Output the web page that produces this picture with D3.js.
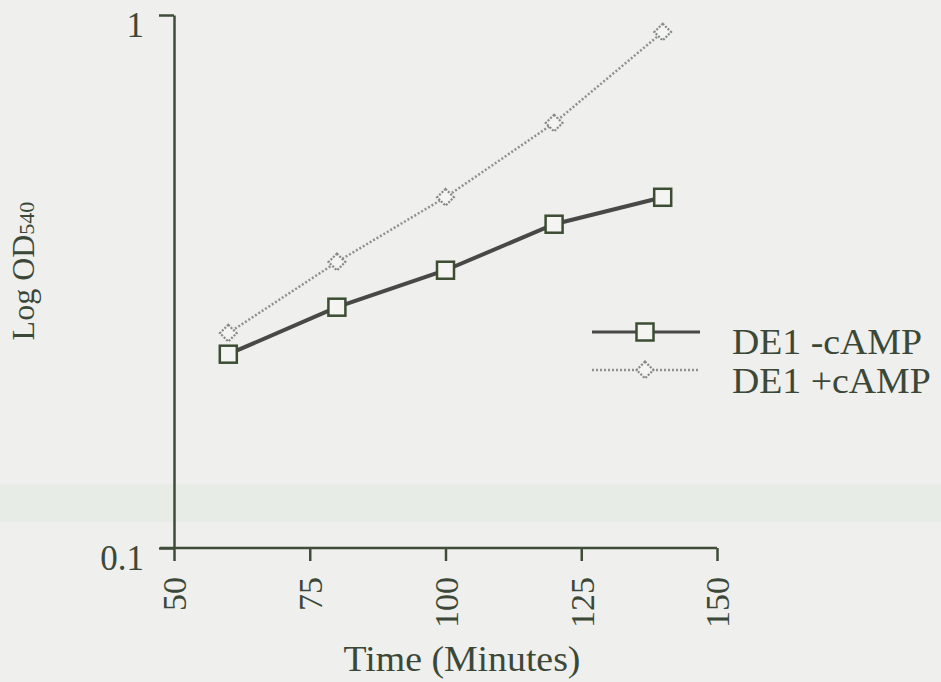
<!DOCTYPE html>
<html>
<head>
<meta charset="utf-8">
<script src="https://cdn.jsdelivr.net/npm/d3@7"></script>
<style>
  body { margin: 0; background: #efefed; }
  svg { display: block; }
  text { font-family: "Liberation Serif", "DejaVu Serif", serif; fill: #3b4838; }
</style>
</head>
<body>
<svg id="chart" width="941" height="682"></svg>
<script>
// data
const times = [60, 80, 100, 120, 140];
const minusCamp = [0.231, 0.283, 0.332, 0.405, 0.455];
const plusCamp = [0.253, 0.344, 0.455, 0.627, 0.929];
const xTicks = [50, 75, 100, 125, 150];
const yTicks = [0.1, 1];
const seriesNames = ['DE1 -cAMP', 'DE1 +cAMP'];

const margin = {top: 15, left: 174, right: 224, bottom: 134};
const width = 941, height = 682;
const stretch = 1.08; // the scan is a bit wider than tall

const svg = d3.select('#chart');

// faint scan band
svg.append('rect')
    .attr('x', 0).attr('y', 484).attr('width', width).attr('height', 38)
    .attr('fill', '#e8ece7');

const x = d3.scaleLinear()
    .domain([50, 150])
    .range([margin.left, width - margin.right]);

const y = d3.scaleLog()
    .domain([0.1, 1])
    .range([height - margin.bottom, margin.top]);

const axisColor = '#3f4c3a';

// x axis
const xAxis = svg.append('g')
    .attr('transform', `translate(0,${y(0.1)})`)
    .call(d3.axisBottom(x).tickValues(xTicks).tickSize(13).tickSizeOuter(0).tickFormat(d3.format('d')));
xAxis.select('.domain').attr('stroke', axisColor).attr('stroke-width', 2.5)
    .attr('d', `M${x(50) - 14},0H${x(150)}`);
xAxis.selectAll('.tick line').attr('stroke', axisColor).attr('stroke-width', 2.5);
xAxis.selectAll('.tick text')
    .attr('font-size', 34)
    .attr('text-anchor', 'end')
    .attr('transform', 'rotate(-90)')
    .attr('x', -29)
    .attr('y', 0)
    .attr('dy', '0.35em')
    .style('fill', '#3b4838');

// y axis
const yAxis = svg.append('g')
    .attr('transform', `translate(${x(50)},0)`)
    .call(d3.axisLeft(y).tickValues(yTicks).tickSize(15).tickSizeOuter(0).tickFormat(d => d === 1 ? '1' : '0.1'));
yAxis.select('.domain').attr('stroke', axisColor).attr('stroke-width', 2.5);
yAxis.selectAll('.tick line').attr('stroke', axisColor).attr('stroke-width', 2.5);
yAxis.selectAll('.tick text')
    .attr('font-size', 35)
    .attr('x', -30)
    .attr('dy', '0.62em')
    .style('fill', '#3b4838');

// axis titles
svg.append('text')
    .attr('transform', `translate(462,671) scale(${stretch},1)`)
    .attr('text-anchor', 'middle')
    .attr('font-size', 35)
    .text('Time (Minutes)');

const yTitle = svg.append('text')
    .attr('transform', 'translate(34,271) rotate(-90)')
    .attr('text-anchor', 'middle')
    .attr('font-size', 32);
yTitle.append('tspan').text('Log OD');
yTitle.append('tspan').attr('font-size', 22).text('540');

// series
const line = d3.line().x(d => x(d[0])).y(d => y(d[1]));
const minusData = times.map((t, i) => [t, minusCamp[i]]);
const plusData = times.map((t, i) => [t, plusCamp[i]]);

const plotG = svg.append('g');

plotG.append('path')
    .datum(plusData)
    .attr('d', line)
    .attr('fill', 'none')
    .attr('stroke', '#8e918c')
    .attr('stroke-width', 2.5)
    .attr('stroke-dasharray', '2,2');

plotG.append('path')
    .datum(minusData)
    .attr('d', line)
    .attr('fill', 'none')
    .attr('stroke', '#484947')
    .attr('stroke-width', 4);

const sq = 17;
const diamond = d3.symbol().type(d3.symbolSquare).size(140);

plotG.selectAll('.diamond')
    .data(plusData)
    .join('path')
    .attr('class', 'diamond')
    .attr('d', diamond)
    .attr('transform', d => `translate(${x(d[0])},${y(d[1])}) rotate(45)`)
    .attr('fill', '#f4f4f2')
    .attr('stroke', '#858a82')
    .attr('stroke-width', 2.2)
    .attr('stroke-dasharray', '2,1.5');

plotG.selectAll('.square')
    .data(minusData)
    .join('rect')
    .attr('class', 'square')
    .attr('x', d => x(d[0]) - sq / 2)
    .attr('y', d => y(d[1]) - sq / 2)
    .attr('width', sq).attr('height', sq)
    .attr('fill', '#f4f4f2')
    .attr('stroke', '#3c4d33')
    .attr('stroke-width', 2.5);

// legend
const legend = svg.append('g');
const legendRows = [
  {name: seriesNames[0], y: 332, text: 354},
  {name: seriesNames[1], y: 370, text: 393}
];
legendRows.forEach((r, i) => {
  legend.append('line')
      .attr('x1', 592).attr('x2', 700).attr('y1', r.y).attr('y2', r.y)
      .attr('stroke', i === 0 ? '#484947' : '#8e918c')
      .attr('stroke-width', i === 0 ? 3 : 2.5)
      .attr('stroke-dasharray', i === 0 ? null : '2,2');
  if (i === 0) {
    legend.append('rect')
        .attr('x', 645 - sq / 2).attr('y', r.y - sq / 2)
        .attr('width', sq).attr('height', sq)
        .attr('fill', '#f4f4f2').attr('stroke', '#3c4d33').attr('stroke-width', 2.5);
  } else {
    legend.append('path')
        .attr('d', diamond)
        .attr('transform', `translate(645,${r.y}) rotate(45)`)
        .attr('fill', '#f4f4f2').attr('stroke', '#858a82')
        .attr('stroke-width', 2.2).attr('stroke-dasharray', '2,1.5');
  }
  legend.append('text')
      .attr('transform', `translate(732,${r.text}) scale(${stretch},1)`)
      .attr('font-size', 35)
      .text(r.name);
});
</script>
</body>
</html>
